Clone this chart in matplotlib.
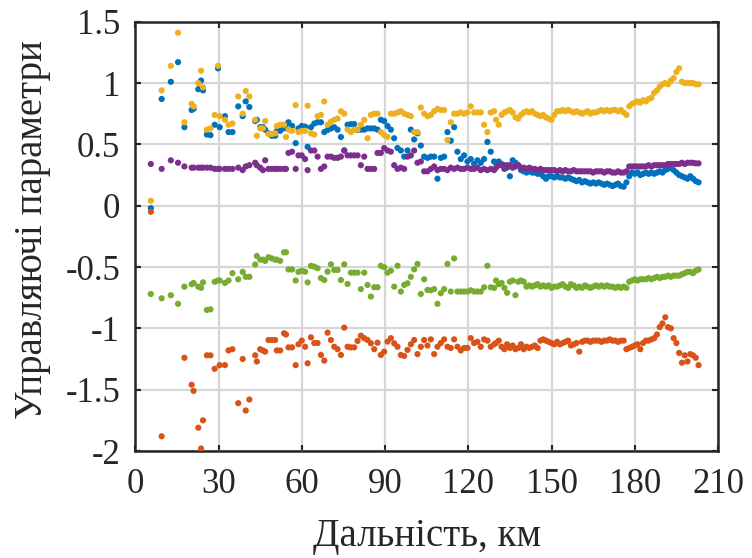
import numpy as np
import matplotlib
matplotlib.use("Agg")
import matplotlib.pyplot as plt

nan = np.nan

# Distance samples, km
x_km = [
    5.6, 9.5, 12.8, 15.4, 17.7, 20.3, 21.0, 22.7, 23.7, 24.4, 25.8, 27.1, 28.6, 29.8, 30.4, 32.3,
    33.6, 35.0, 37.1, 38.7, 39.8, 41.1, 43.2, 43.8, 45.0, 46.0, 46.8, 48.0, 49.2, 50.4, 51.0, 52.2,
    53.6, 54.3, 55.2, 56.5, 57.8,
    58.8, 60.0, 61.2, 62.1, 63.3, 64.5, 65.7, 66.9, 68.1, 69.3, 70.5, 71.7, 72.9, 74.1, 75.3, 76.5,
    77.7, 78.9, 80.1, 81.3, 82.5, 83.7, 84.9, 86.1, 87.3, 88.5, 89.7, 90.9, 92.1, 93.3, 94.5, 95.7,
    96.9, 98.1, 99.3, 100.5, 101.7, 102.9, 104.1, 105.3, 106.5, 107.7, 108.9, 110.1, 111.3, 112.5,
    113.7, 114.9, 116.1, 117.3, 118.5, 119.7, 120.9, 122.1, 123.3, 124.5, 125.7, 126.9, 128.1, 129.3,
    130, 131, 132, 133, 134, 135, 136, 137, 138, 139, 140, 141, 142, 143, 144, 145, 146, 147, 148,
    149, 150, 151, 152, 153, 154, 155, 156, 157, 158, 159, 160, 161, 162, 163, 164, 165, 166, 167,
    168, 169, 170, 171, 172, 173, 174, 175, 176, 177, 178, 179, 180, 181, 182, 183, 184, 185, 186,
    187, 188, 189, 190, 191, 192, 193, 194, 195, 196, 197, 198, 199, 200, 201, 202, 203,
]

y_blue = [
    -0.02, 0.87, 1.01, 1.17, 0.64, 0.78, 0.79, 0.95, 1.02, 0.94, 0.58, 0.575, 0.66, 1.12, 0.64, 0.73,
    0.60, 0.60, 0.81, 0.73, 0.85, 0.805, 0.69, 0.70, 0.64, 0.64, 0.62, 0.59, 0.57, 0.57, 0.61, 0.61,
    0.63, 0.66, 0.68, 0.65, 0.51,
    0.63, 0.65, 0.645, 0.48, 0.64, 0.67, 0.68, 0.68, 0.60, 0.617, 0.63, 0.64, 0.62, 0.56, 0.45, 0.66,
    0.665, 0.665, 0.617, 0.62, 0.62, 0.63, 0.63, 0.63, 0.62, 0.70, 0.69, 0.65, 0.62, 0.55, 0.47, 0.45,
    0.40, 0.45, 0.62, 0.54, 0.59, 0.49, 0.40, 0.39, 0.40, 0.40, 0.22, 0.39, 0.40, 0.60,
    0.53, 0.64, 0.44, 0.38, 0.41, 0.36, 0.38, 0.34, 0.37, 0.35, 0.38, 0.52, 0.44, 0.36,
    0.35, 0.36, 0.34, 0.33, 0.31, 0.24, 0.37, 0.35, 0.33, 0.29, 0.28, 0.27, 0.28, 0.27, 0.27, 0.26, 0.26, 0.24, 0.22,
    0.24, 0.24, 0.23, 0.24, 0.23, 0.23, 0.22, 0.23, 0.22, 0.21, 0.20, 0.21, 0.19, 0.20, 0.19, 0.18, 0.19, 0.18, 0.19,
    0.18, 0.17, 0.18, 0.17, 0.16, 0.17, 0.18, 0.16, 0.155, 0.19, 0.24, 0.27, 0.26, 0.27, 0.25, 0.26, 0.27, 0.26, 0.27,
    0.26, 0.27, 0.28, 0.27, 0.29, 0.30, 0.31, 0.29, 0.27, 0.25, 0.24, 0.23, 0.22, 0.24, 0.22, 0.20, 0.19,
]

y_orange = [
    -0.05, -1.88, nan, nan, -1.24, -1.46, -1.51, -1.81, -1.98, -1.75, -1.22, -1.22, -1.33, nan, -1.30, -1.30,
    -1.18, -1.17, -1.61, -1.25, -1.67, -1.58, -1.22, -1.27, -1.17, -1.18, -1.19, -1.095, -1.095, -1.095, -1.18, -1.18,
    -1.04, -1.05, -1.155, -1.155, -1.30,
    -1.13, -1.10, -1.15, -1.285, -1.073, -1.12, -1.12, -1.217, -1.263, -1.035, -1.095, -1.15, -1.17, -1.217, -0.994, -1.15,
    -1.155, -1.155, -1.103, -1.06, -1.08, -1.095, -1.122, -1.17, -1.117, -1.217, -1.19, -1.108, -1.08, -1.122, -1.15, -1.217,
    -1.225, -1.176, -1.13, -1.095, -1.21, -1.15, -1.095, -1.14, -1.09, -1.21, -1.15, -1.12, -1.09, -1.15,
    -1.16, -1.09, -1.15, -1.18, -1.16, -1.16, -1.08, -1.12, -1.11, -1.15, -1.09, -1.10, -1.15, -1.13,
    -1.12, -1.10, -1.15, -1.17, -1.13, -1.16, -1.14, -1.17, -1.16, -1.13, -1.17, -1.15, -1.16, -1.15, -1.14, -1.16, -1.10, -1.09, -1.10,
    -1.11, -1.12, -1.13, -1.11, -1.13, -1.12, -1.11, -1.10, -1.14, -1.13, -1.12, -1.19, -1.11, -1.10, -1.10, -1.11, -1.10, -1.10, -1.10,
    -1.11, -1.10, -1.10, -1.09, -1.10, -1.10, -1.11, -1.10, -1.10, -1.17, -1.16, -1.15, -1.14, -1.13, -1.17, -1.12, -1.10, -1.10, -1.09,
    -1.08, -1.05, -0.99, -0.96, -0.91, -0.99, -1.00, -1.08, -1.12, -1.20, -1.28, -1.22, -1.27, -1.21, -1.22, -1.24, -1.30,
]

y_yellow = [
    0.04, 0.94, 1.14, 1.41, 0.68, 0.83, 0.81, 1.00, 1.10, 0.965, 0.62, 0.63, 0.74, 1.14, 0.73, 0.70,
    0.66, 0.67, 0.89, 0.75, 0.935, 0.89, 0.70, 0.57, 0.63, 0.63, 0.69, 0.585, 0.585, 0.59, 0.65, 0.66,
    0.66, 0.56, 0.62, 0.61, 0.82,
    0.60, 0.61, 0.61, 0.815, 0.59, 0.58, 0.73, 0.74, 0.85, 0.66, 0.685, 0.70, 0.71, 0.77, 0.75, 0.62,
    0.60, 0.62, 0.62, 0.66, 0.70, 0.55, 0.74, 0.75, 0.75, 0.60, 0.575, 0.56, 0.75, 0.75, 0.76, 0.77,
    0.75, 0.74, 0.73, 0.60, 0.60, 0.80, 0.75, 0.73, 0.74, 0.77, 0.79, 0.78, 0.78, 0.535,
    0.68, 0.75, 0.75, 0.76, 0.75, 0.76, 0.81, 0.76, 0.76, 0.76, 0.66, 0.60, 0.76, 0.77,
    0.70, 0.66, 0.74, 0.76, 0.77, 0.78, 0.76, 0.72, 0.71, 0.74, 0.76, 0.77, 0.76, 0.77, 0.75, 0.74, 0.73, 0.74, 0.72,
    0.71, 0.70, 0.74, 0.77, 0.77, 0.78, 0.77, 0.78, 0.77, 0.76, 0.77, 0.76, 0.75, 0.76, 0.77, 0.75, 0.76, 0.76, 0.77,
    0.78, 0.77, 0.78, 0.77, 0.78, 0.78, 0.77, 0.78, 0.76, 0.74, 0.81, 0.83, 0.84, 0.85, 0.84, 0.86, 0.85, 0.87, 0.88,
    0.92, 0.94, 0.97, 0.99, 1.00, 0.99, 1.02, 1.04, 1.09, 1.12, 1.01, 1.00, 1.00, 1.00, 1.00, 0.99, 0.99,
]

y_purple = [
    0.34, 0.30, 0.37, 0.35, 0.32, 0.31, 0.31, 0.31, 0.31, 0.31, 0.31, 0.31, 0.30, 0.30, 0.30, 0.30,
    0.30, 0.30, 0.31, 0.29, 0.32, 0.33, 0.35, 0.33, 0.31, 0.29, 0.37, 0.30, 0.30, 0.30, 0.30, 0.30,
    0.30, 0.30, 0.43, 0.44, 0.30,
    0.41, 0.41, 0.38, 0.29, 0.45, 0.45, 0.40, 0.30, 0.32, 0.40, 0.40, 0.39, 0.39, 0.40, 0.45, 0.41,
    0.41, 0.41, 0.41, 0.33, 0.40, 0.30, 0.30, 0.30, 0.43, 0.43, 0.47, 0.45, 0.44, 0.33, 0.30, 0.31,
    0.30, 0.40, 0.41, 0.45, 0.35, 0.36, 0.28, 0.28, 0.30, 0.32, 0.29, 0.30, 0.30, 0.29,
    0.31, 0.30, 0.31, 0.30, 0.30, 0.31, 0.30, 0.30, 0.31, 0.29, 0.30, 0.29, 0.30, 0.29,
    0.31, 0.33, 0.33, 0.30, 0.33, 0.33, 0.31, 0.32, 0.33, 0.31, 0.31, 0.30, 0.31, 0.30, 0.30, 0.29, 0.30, 0.29, 0.29,
    0.29, 0.29, 0.29, 0.28, 0.29, 0.28, 0.29, 0.28, 0.28, 0.29, 0.28, 0.28, 0.28, 0.28, 0.28, 0.28, 0.27, 0.28, 0.28,
    0.28, 0.27, 0.28, 0.28, 0.27, 0.27, 0.28, 0.27, 0.27, 0.28, 0.32, 0.32, 0.32, 0.32, 0.32, 0.32, 0.32, 0.33, 0.32,
    0.33, 0.33, 0.33, 0.33, 0.33, 0.34, 0.34, 0.34, 0.34, 0.34, 0.35, 0.34, 0.35, 0.35, 0.35, 0.345, 0.345,
]

y_green = [
    -0.72, -0.755, -0.73, -0.80, -0.66, -0.64, -0.63, -0.66, -0.67, -0.625, -0.85, -0.845, -0.62, -0.61, -0.61, -0.63,
    -0.61, -0.55, -0.60, -0.54, -0.58, -0.58, -0.48, -0.41, -0.44, -0.44, -0.45, -0.42, -0.43, -0.44, -0.44, -0.45,
    -0.38, -0.38, -0.52, -0.52, -0.61,
    -0.54, -0.53, -0.538, -0.625, -0.49, -0.497, -0.51, -0.59, -0.606, -0.538, -0.478, -0.524, -0.524, -0.606, -0.478, -0.638,
    -0.546, -0.546, -0.546, -0.68, -0.546, -0.646, -0.741, -0.665, -0.665, -0.49, -0.502, -0.546, -0.53, -0.66, -0.49, -0.70,
    -0.646, -0.633, -0.58, -0.519, -0.475, -0.72, -0.60, -0.687, -0.69, -0.68, -0.80, -0.714, -0.68, -0.475,
    -0.70, -0.43, -0.70, -0.70, -0.70, -0.70, -0.69, -0.70, -0.70, -0.70, -0.665, -0.49, -0.665, -0.67,
    -0.61, -0.64, -0.63, -0.67, -0.71, -0.62, -0.61, -0.73, -0.62, -0.61, -0.62, -0.66, -0.65, -0.66, -0.65, -0.64, -0.66, -0.65, -0.66,
    -0.65, -0.67, -0.66, -0.66, -0.65, -0.64, -0.66, -0.67, -0.64, -0.65, -0.67, -0.66, -0.67, -0.65, -0.66, -0.67, -0.66, -0.65, -0.66,
    -0.65, -0.66, -0.65, -0.66, -0.66, -0.67, -0.66, -0.67, -0.66, -0.67, -0.62, -0.61, -0.60, -0.61, -0.60, -0.60, -0.60, -0.59, -0.60,
    -0.59, -0.58, -0.59, -0.58, -0.58, -0.57, -0.58, -0.57, -0.57, -0.57, -0.56, -0.55, -0.54, -0.54, -0.55, -0.53, -0.52,
]

x_ticks = [0, 30, 60, 90, 120, 150, 180, 210]
y_ticks = [-2, -1.5, -1, -0.5, 0, 0.5, 1, 1.5]
y_tick_labels = ["-2", "-1.5", "-1", "-0.5", "0", "0.5", "1", "1.5"]

series = [
    (y_blue, "#0072BD"),
    (y_orange, "#D95319"),
    (y_yellow, "#EDB120"),
    (y_purple, "#7E2F8E"),
    (y_green, "#77AC30"),
]

plt.rcParams["font.family"] = ["Liberation Serif", "DejaVu Serif"]

fig = plt.figure(figsize=(7.52, 5.58), dpi=100)
ax = fig.add_axes([135.3 / 752, 1 - 451 / 558, (718 - 135.3) / 752, (451 - 21.7) / 558])

for ys, col in series:
    ax.scatter(x_km, ys, s=20, color=col, edgecolors="none", zorder=3)

ax.set_xlim(0, 210)
ax.set_ylim(-2, 1.5)
ax.set_xticks(x_ticks)
ax.set_yticks(y_ticks)
ax.set_yticklabels(y_tick_labels)
ax.grid(True, color="#d6d6d6", linewidth=1.6, zorder=0)
ax.set_axisbelow(True)
for sp in ax.spines.values():
    sp.set_linewidth(1.8)
    sp.set_color("#262626")
ax.tick_params(direction="in", length=4.5, width=1.5, colors="#262626",
               labelsize=25, top=True, right=True)
ax.tick_params(axis="x", pad=12)
ax.tick_params(axis="y", pad=11)

ax.set_xlabel("Дальність, км", fontsize=28, color="#262626")
ax.set_ylabel("Управляючі параметри", fontsize=28, color="#262626")
ax.xaxis.set_label_coords(0.5, -0.155)
ax.yaxis.set_label_coords(-0.145, 0.515)

fig.savefig("out.png", dpi=100)
